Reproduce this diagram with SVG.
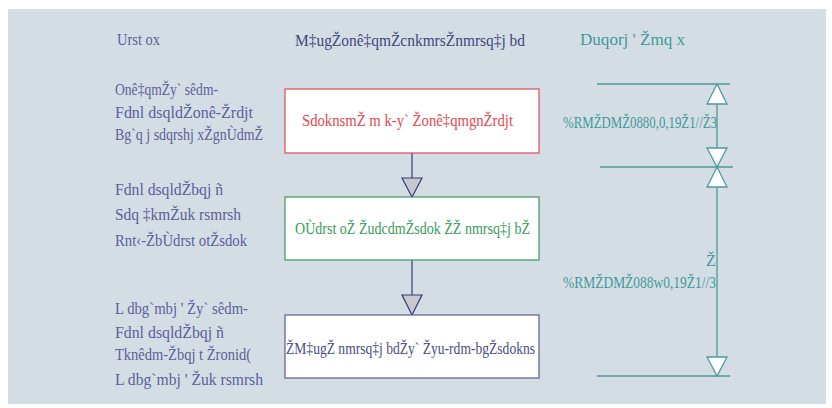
<svg xmlns="http://www.w3.org/2000/svg" width="832" height="408" viewBox="0 0 832 408">
<style>
text{font-family:"Liberation Serif","DejaVu Serif",serif;font-size:16px}
.l{fill:#5c5e9e}
.h{fill:#3f4682}
.t{fill:#3d9a9a}
.box{fill:#fff;stroke-width:1.2}
.dim{stroke:#4a9a9a;stroke-width:1.3;fill:none}
.dh{fill:#fff;stroke:#4a9a9a;stroke-width:1.3}
.con{stroke:#3a3a78;stroke-width:1.2;fill:none}
.ah{fill:#c8c9cc;stroke:#3a3a78;stroke-width:1.2}
</style>
<rect x="8" y="9" width="818" height="395" fill="#d5dde4"/>
<g id="headers">
<text class="l" x="117" y="45" textLength="43" lengthAdjust="spacingAndGlyphs">Urst ox</text>
<text class="h" x="295" y="46" textLength="230" lengthAdjust="spacingAndGlyphs">M‡ugŽonê‡qmŽcnkmrsŽnmrsq‡j bd</text>
<text class="t" x="580" y="45" textLength="105" lengthAdjust="spacingAndGlyphs">Duqorj ' Žmq x</text>
</g>
<g id="inputs1">
<text class="l" x="115" y="95" textLength="103" lengthAdjust="spacingAndGlyphs">Onê‡qmŽy` sêdm-</text>
<text class="l" x="115" y="118" textLength="138" lengthAdjust="spacingAndGlyphs">Fdnl dsqldŽonê-Žrdjt</text>
<text class="l" x="115" y="140" textLength="148" lengthAdjust="spacingAndGlyphs">Bg`q j sdqrshj xŽgnÙdmŽ</text>
</g>
<g id="inputs2">
<text class="l" x="115" y="195" textLength="108" lengthAdjust="spacingAndGlyphs">Fdnl dsqldŽbqj ñ</text>
<text class="l" x="115" y="220" textLength="126" lengthAdjust="spacingAndGlyphs">Sdq ‡kmŽuk rsmrsh</text>
<text class="l" x="115" y="246" textLength="132" lengthAdjust="spacingAndGlyphs">Rnt‹-ŽbÙdrst otŽsdok</text>
</g>
<g id="inputs3">
<text class="l" x="115" y="314" textLength="133" lengthAdjust="spacingAndGlyphs">L dbg`mbj ' Žy` sêdm-</text>
<text class="l" x="115" y="338" textLength="109" lengthAdjust="spacingAndGlyphs">Fdnl dsqldŽbqj ñ</text>
<text class="l" x="115" y="360" textLength="136" lengthAdjust="spacingAndGlyphs">Tknêdm-Žbqj t Žronid(</text>
<text class="l" x="115" y="385" textLength="148" lengthAdjust="spacingAndGlyphs">L dbg`mbj ' Žuk rsmrsh</text>
</g>
<g id="connectors">
<line class="con" x1="412" y1="153" x2="412" y2="178"/>
<polygon class="ah" points="402,178 422,178 412,197"/>
<line class="con" x1="412" y1="260" x2="412" y2="295"/>
<polygon class="ah" points="402,295 422,295 412,315"/>
</g>
<g id="box1">
<rect class="box" x="285" y="89" width="254" height="64" stroke="#de4a52"/>
<text x="302" y="126" fill="#e2474f" textLength="211" lengthAdjust="spacingAndGlyphs">SdoknsmŽ m k-y` Žonê‡qmgnŽrdjt</text>
</g>
<g id="box2">
<rect class="box" x="285" y="197" width="254" height="63" stroke="#3a9a5c"/>
<text x="295" y="234" fill="#3a9a5c" textLength="235" lengthAdjust="spacingAndGlyphs">OÙdrst oŽ ŽudcdmŽsdok ŽŽ nmrsq‡j bŽ</text>
</g>
<g id="box3">
<rect class="box" x="285" y="315" width="254" height="63" stroke="#5a5a8e"/>
<text x="286" y="354" fill="#4a4c84" textLength="249" lengthAdjust="spacingAndGlyphs">ŽM‡ugŽ nmrsq‡j bdŽy` Žyu-rdm-bgŽsdokns</text>
</g>
<g id="dimension">
<line class="dim" x1="597" y1="84" x2="730" y2="84"/>
<line class="dim" x1="600" y1="167" x2="733" y2="167"/>
<line class="dim" x1="597" y1="376" x2="730" y2="376"/>
<line class="dim" x1="717" y1="84" x2="717" y2="376"/>
<polygon class="dh" points="717,84 707,104 727,104"/>
<polygon class="dh" points="717,167 707,148 727,148"/>
<polygon class="dh" points="717,167 707,187 727,187"/>
<polygon class="dh" points="717,376 707,357 727,357"/>
<text class="t" x="563" y="128" textLength="154" lengthAdjust="spacingAndGlyphs">%RMŽDMŽ0880,0,19Ž1//Ž3</text>
<text class="t" x="706" y="266">Ž</text>
<text class="t" x="563" y="288" textLength="153" lengthAdjust="spacingAndGlyphs">%RMŽDMŽ088w0,19Ž1//3</text>
</g>
</svg>
